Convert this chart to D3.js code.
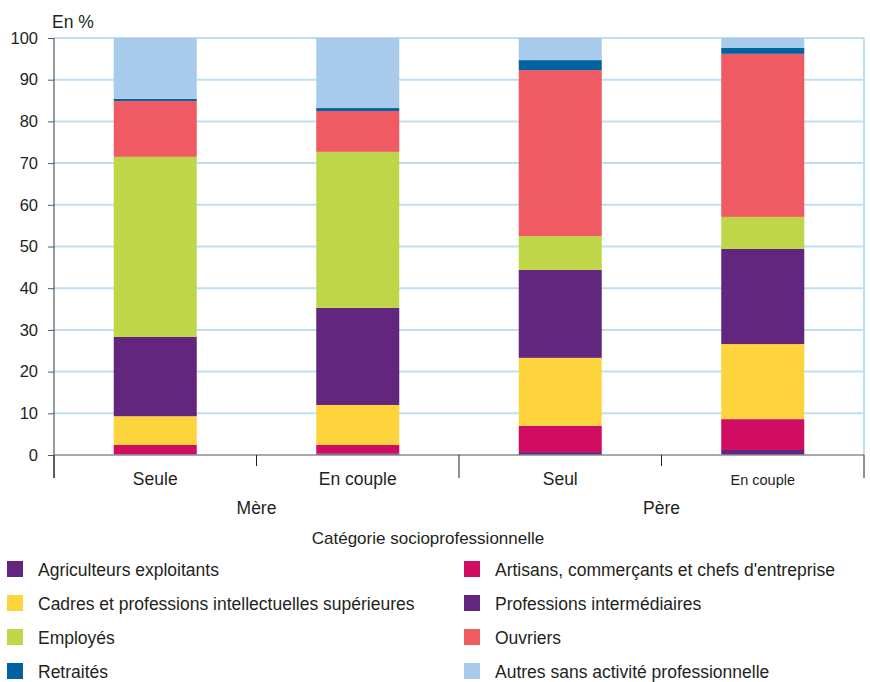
<!DOCTYPE html>
<html>
<head>
<meta charset="utf-8">
<script src="https://cdn.jsdelivr.net/npm/d3@7"></script>
<style>
  body { margin: 0; background: #fff; }
  text { font-family: "Liberation Sans", Arial, sans-serif; fill: #231f20; }
</style>
</head>
<body>
<svg id="chart" width="870" height="682"></svg>
<script>
// bars, in drawing order
const groups = ["Mère", "Mère", "Père", "Père"];
const situations = ["Seule", "En couple", "Seul", "En couple"];

// categories from the bottom of each bar to the top
const categories = [
  "Agriculteurs exploitants",
  "Artisans, commerçants et chefs d'entreprise",
  "Cadres et professions intellectuelles supérieures",
  "Professions intermédiaires",
  "Employés",
  "Ouvriers",
  "Retraités",
  "Autres sans activité professionnelle",
];
const colors = ["#63267f", "#d00c63", "#fdd43c", "#63267f", "#bfd648", "#f05a62", "#0063a0", "#a8cbeb"];

// shares in %, one array per category, one value per bar
const agriculteurs = [0.1, 0.4, 0.7, 1.2];
const artisans = [2.3, 2.0, 6.3, 7.4];
const cadres = [6.9, 9.6, 16.3, 18.0];
const profInter = [19.0, 23.3, 21.1, 22.8];
const employes = [43.2, 37.4, 8.1, 7.7];
const ouvriers = [13.4, 9.8, 39.8, 39.1];
const retraites = [0.5, 0.7, 2.4, 1.4];
const autres = [14.6, 16.8, 5.3, 2.4];
const series = [agriculteurs, artisans, cadres, profInter, employes, ouvriers, retraites, autres];

const yTicks = [0, 10, 20, 30, 40, 50, 60, 70, 80, 90, 100];

// legend order: two columns, read left then right
const legendOrder = [0, 1, 2, 3, 4, 5, 6, 7];

const svg = d3.select("#chart");
const margin = { left: 54, right: 6, top: 38, bottom: 227 };
const width = 870 - margin.left - margin.right;
const height = 682 - margin.top - margin.bottom;

const g = svg.append("g").attr("transform", `translate(${margin.left},${margin.top})`);

const x = d3.scaleBand()
  .domain(d3.range(situations.length))
  .range([0, width])
  .paddingInner(0.59)
  .paddingOuter(0.295);
const y = d3.scaleLinear().domain([0, 100]).range([height, 0]);

// rows for the stack
const rows = situations.map((s, i) => {
  const r = { i };
  categories.forEach((c, k) => (r[c] = series[k][i]));
  return r;
});
const stacked = d3.stack().keys(categories)(rows);

// grid lines
g.append("g")
  .selectAll("line")
  .data(yTicks.filter((d) => d > 0))
  .join("line")
  .attr("x1", 0)
  .attr("x2", width)
  .attr("y1", (d) => y(d))
  .attr("y2", (d) => y(d))
  .attr("stroke", "#bcdff3")
  .attr("stroke-width", 2);
g.append("line")
  .attr("x1", width).attr("x2", width)
  .attr("y1", y(100)).attr("y2", y(0))
  .attr("stroke", "#bcdff3")
  .attr("stroke-width", 2);

// bars
g.append("g")
  .selectAll("g")
  .data(stacked)
  .join("g")
  .attr("fill", (d, k) => colors[k])
  .selectAll("rect")
  .data((d) => d)
  .join("rect")
  .attr("x", (d) => x(d.data.i))
  .attr("y", (d) => y(d[1]))
  .attr("width", x.bandwidth())
  .attr("height", (d) => y(d[0]) - y(d[1]));

// y axis
const yAxis = g.append("g")
  .call(d3.axisLeft(y).tickValues(yTicks).tickSize(6).tickSizeOuter(0));
yAxis.select(".domain").attr("stroke", "#58595b").attr("stroke-width", 1.2)
  .attr("d", `M0,${y(100)}V${height + 23}`);
yAxis.selectAll(".tick line").attr("stroke", "#58595b");
yAxis.selectAll(".tick text")
  .attr("x", -16)
  .style("font-family", "Liberation Sans, Arial, sans-serif")
  .style("font-size", "16.5px")
  .attr("fill", "#231f20");

// x axis line at 0
g.append("line")
  .attr("x1", 0).attr("x2", width)
  .attr("y1", y(0)).attr("y2", y(0))
  .attr("stroke", "#8a8c8e")
  .attr("stroke-width", 1.5);

// separators below the axis: long between groups, short between bars
const sep = d3.range(situations.length + 1).map((k) => k * x.step());
g.append("g")
  .selectAll("line")
  .data(sep)
  .join("line")
  .attr("x1", (d) => d)
  .attr("x2", (d) => d)
  .attr("y1", height)
  .attr("y2", (d, k) => height + (k % 2 === 0 ? 23 : 11))
  .attr("stroke", "#231f20")
  .attr("stroke-width", 1);

// bar labels
g.append("g")
  .selectAll("text")
  .data(situations)
  .join("text")
  .attr("x", (d, i) => x(i) + x.bandwidth() / 2)
  .attr("y", height + 30)
  .attr("text-anchor", "middle")
  .style("font-size", (d, i) => (i === 3 ? "14.5px" : "17.5px"))
  .text((d) => d);

// group labels
const groupNames = Array.from(new Set(groups));
g.append("g")
  .selectAll("text")
  .data(groupNames)
  .join("text")
  .attr("x", (d) => {
    const idx = groups.map((v, i) => (v === d ? i : -1)).filter((i) => i >= 0);
    return (x(idx[0]) + x(idx[idx.length - 1]) + x.bandwidth()) / 2;
  })
  .attr("y", height + 59)
  .attr("text-anchor", "middle")
  .style("font-size", "17.5px")
  .text((d) => d);

g.append("text")
  .attr("x", width / 2 - 31)
  .attr("y", height + 89)
  .attr("text-anchor", "middle")
  .style("font-size", "17px")
  .text("Catégorie socioprofessionnelle");

svg.append("text")
  .attr("x", 52)
  .attr("y", 28)
  .style("font-size", "17.5px")
  .text("En %");

// legend
const legend = svg.append("g")
  .selectAll("g")
  .data(legendOrder)
  .join("g")
  .attr("transform", (d, n) => `translate(${n % 2 === 0 ? 7 : 464},${561 + Math.floor(n / 2) * 34})`);
legend.append("rect")
  .attr("width", 16)
  .attr("height", 16)
  .attr("fill", (d) => colors[d]);
legend.append("text")
  .attr("x", 31)
  .attr("y", 14.5)
  .style("font-size", "17.5px")
  .text((d) => categories[d]);
</script>
</body>
</html>
